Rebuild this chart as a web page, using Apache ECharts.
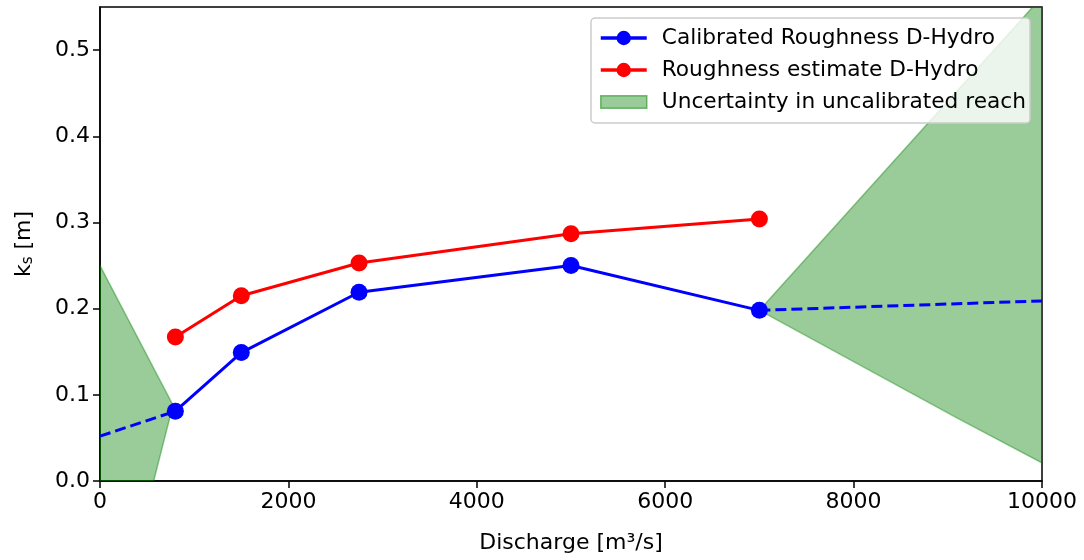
<!DOCTYPE html>
<html>
<head>
<meta charset="utf-8">
<script src="https://cdn.jsdelivr.net/npm/echarts@6/dist/echarts.min.js"></script>
<style>html,body{margin:0;padding:0;background:#fff}#c{width:1084px;height:560px}</style>
</head>
<body>
<div id="c"></div>
<script>
const xTicks = [0, 2000, 4000, 6000, 8000, 10000];
const calibratedQ = [800, 1500, 2750, 5000, 7000];
const calibratedKs = [0.081, 0.149, 0.219, 0.250, 0.198];
const estimateQ = [800, 1500, 2750, 5000, 7000];
const estimateKs = [0.167, 0.215, 0.253, 0.287, 0.304];
const extrapLowQ = [0, 800];
const extrapLowKs = [0.052, 0.081];
const extrapHighQ = [7000, 10000];
const extrapHighKs = [0.198, 0.209];
const leftBandQ = [0, 775, 570, 0];
const leftBandKs = [0.25, 0.088, 0.0, 0.0];
const rightBandQ = [7000, 10000, 10000, 9100];
const rightBandKs = [0.198, 0.562, 0.021, 0.073];

const FONT = 'DejaVu Sans';
const FS = 22;
const zip = (a, b) => a.map((v, i) => [v, b[i]]);
const green = 'rgba(0,128,0,0.4)';
const bands = [zip(leftBandQ, leftBandKs), zip(rightBandQ, rightBandKs)];

const chart = echarts.init(document.getElementById('c'));
chart.setOption({
  animation: false,
  backgroundColor: '#fff',
  textStyle: { fontFamily: FONT },
  grid: { left: 100, right: 42, top: 7, bottom: 79, show: true, borderColor: '#000', borderWidth: 1.5, backgroundColor: 'transparent' },
  legend: {
    right: 54, top: 18, orient: 'vertical',
    data: [
      { name: 'Calibrated Roughness D-Hydro', lineStyle: { width: 3.5 } },
      { name: 'Roughness estimate D-Hydro', lineStyle: { width: 3.5 } },
      { name: 'Uncertainty in uncalibrated reach', icon: 'path://M0,2 L44,2 L44,14 L0,14 Z', itemStyle: { color: green, borderColor: 'rgba(0,128,0,0.5)', borderWidth: 1.5 } }
    ],
    itemWidth: 46, itemHeight: 18, itemGap: 10,
    padding: [9, 4, 10, 8],
    backgroundColor: 'rgba(255,255,255,0.8)', borderColor: '#cccccc', borderWidth: 1.5, borderRadius: 4,
    textStyle: { fontFamily: FONT, fontSize: 21.7, color: '#000', padding: [0, 0, 0, 10] }
  },
  xAxis: {
    type: 'value', min: 0, max: 10000, interval: 2000,
    name: 'Discharge [m³/s]', nameLocation: 'middle', nameGap: 51,
    nameTextStyle: { fontFamily: FONT, fontSize: FS, color: '#000' },
    axisLine: { show: true, lineStyle: { color: '#000', width: 1.5 } },
    axisTick: { show: true, length: 7, lineStyle: { color: '#000', width: 1.5 } },
    axisLabel: { fontFamily: FONT, fontSize: FS, color: '#000', margin: 10, formatter: v => String(v) },
    splitLine: { show: false }
  },
  yAxis: {
    type: 'value', min: 0, max: 0.55, interval: 0.1,
    name: '{a|k}{b|s}{a| [m]}', nameLocation: 'middle', nameGap: 64,
    nameTextStyle: { fontFamily: FONT, fontSize: FS, color: '#000',
      rich: { a: { fontFamily: FONT, fontSize: FS, color: '#000' }, b: { fontFamily: FONT, fontSize: 15, color: '#000', padding: [9, 0, 0, 0] } } },
    axisLine: { show: true, lineStyle: { color: '#000', width: 1.5 } },
    axisTick: { show: true, length: 7, lineStyle: { color: '#000', width: 1.5 } },
    axisLabel: { fontFamily: FONT, fontSize: FS, color: '#000', margin: 10, formatter: v => v.toFixed(1), showMaxLabel: false },
    splitLine: { show: false }
  },
  series: [
    {
      name: 'Uncertainty in uncalibrated reach', type: 'custom', clip: true, z: 1,
      data: [[0], [1]],
      renderItem: (params, api) => {
        const pts = bands[params.dataIndex].map(p => api.coord(p));
        return { type: 'polygon', shape: { points: pts }, style: { fill: green, stroke: 'rgba(0,128,0,0.4)', lineWidth: 1.5 } };
      },
      itemStyle: { color: green }
    },
    {
      name: 'extrapLow', type: 'line', data: zip(extrapLowQ, extrapLowKs), showSymbol: false, z: 3,
      lineStyle: { color: '#0000ff', width: 3, type: [11, 5] }, itemStyle: { color: '#0000ff' }
    },
    {
      name: 'extrapHigh', type: 'line', data: zip(extrapHighQ, extrapHighKs), showSymbol: false, z: 3,
      lineStyle: { color: '#0000ff', width: 3, type: [11, 5] }, itemStyle: { color: '#0000ff' }
    },
    {
      name: 'Calibrated Roughness D-Hydro', type: 'line', data: zip(calibratedQ, calibratedKs), z: 4,
      symbol: 'circle', symbolSize: 17, lineStyle: { color: '#0000ff', width: 3 }, itemStyle: { color: '#0000ff' }
    },
    {
      name: 'Roughness estimate D-Hydro', type: 'line', data: zip(estimateQ, estimateKs), z: 4,
      symbol: 'circle', symbolSize: 17, lineStyle: { color: '#ff0000', width: 3 }, itemStyle: { color: '#ff0000' }
    }
  ]
});
</script>
</body>
</html>
